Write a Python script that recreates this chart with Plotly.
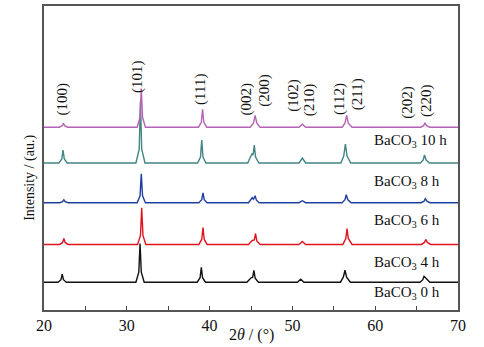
import plotly.graph_objects as go

# ---- data (2theta in degrees, intensity in arbitrary units above each pattern's baseline) ----
x_0h = [20, 21.7, 22.05, 22.2, 22.35, 22.7, 31.1, 31.45, 31.6, 31.75, 32.1, 38.5, 38.85, 39.0, 39.15, 39.5,
        44.5, 44.95, 45.2, 45.35, 45.5, 45.9, 50.6, 51.0, 51.4, 55.8, 56.15, 56.35, 56.55, 57.0,
        65.4, 65.75, 65.9, 66.2, 66.6, 70]
y_0h = [0, 0, 2.5, 8, 2.5, 0, 0, 10, 39, 10, 0, 0, 4.5, 15, 4.5, 0,
        0, 4, 5, 12, 4, 0, 0, 3, 0, 0, 5, 12, 5, 0,
        0, 2.5, 6, 3, 0, 0]

x_4h = [20, 21.9, 22.25, 22.4, 22.55, 22.9, 31.3, 31.65, 31.8, 31.95, 32.3, 38.7, 39.05, 39.2, 39.35, 39.7,
        44.7, 45.15, 45.4, 45.55, 45.7, 46.1, 50.8, 51.2, 51.6, 56.1, 56.45, 56.6, 56.75, 57.2,
        65.6, 65.95, 66.1, 66.3, 66.7, 70]
y_4h = [0, 0, 2, 6, 2, 0, 0, 9, 37, 9, 0, 0, 5, 17, 5, 0,
        0, 4, 4.5, 11, 3.5, 0, 0, 3, 0, 0, 6, 16, 6, 0,
        0, 2, 5, 2, 0, 0]

x_6h = [20, 21.9, 22.25, 22.4, 22.55, 22.9, 31.25, 31.6, 31.75, 31.9, 32.25, 38.7, 39.05, 39.2, 39.35, 39.7,
        44.7, 45.15, 45.3, 45.5, 45.65, 46.0, 50.8, 51.2, 51.6, 56.0, 56.35, 56.5, 56.7, 57.1,
        65.55, 65.9, 66.05, 66.25, 66.6, 70]
y_6h = [0, 0, 1, 3, 1, 0, 0, 7, 29, 7, 0, 0, 3, 10, 3, 0,
        0, 5, 3.5, 7, 2.5, 0, 0, 2, 0, 0, 3, 8, 3, 0,
        0, 1.5, 4, 1.5, 0, 0]

x_8h = [20, 21.8, 22.15, 22.3, 22.45, 22.8, 31.1, 31.5, 31.65, 31.8, 32.2, 38.55, 38.9, 39.05, 39.2, 39.55,
        44.6, 45.1, 45.25, 45.4, 45.55, 45.95, 50.8, 51.2, 51.6, 55.85, 56.2, 56.4, 56.6, 57.05,
        65.45, 65.8, 65.95, 66.15, 66.55, 70]
y_8h = [0, 0, 4, 13, 4, 0, 0, 14, 62, 14, 0, 0, 6, 23, 6, 0,
        0, 9, 8, 18, 6, 0, 0, 5, 0, 0, 7, 19, 7, 0,
        0, 3, 8, 3, 0, 0]

x_10h = [20, 21.85, 22.2, 22.35, 22.5, 22.85, 31.25, 31.6, 31.75, 31.9, 32.25, 38.65, 39.0, 39.15, 39.3, 39.65,
         44.9, 45.3, 45.5, 45.7, 46.1, 50.8, 51.2, 51.6, 56.0, 56.35, 56.55, 56.75, 57.2,
         65.5, 65.85, 66.0, 66.2, 66.6, 70]
y_10h = [0, 0, 1.5, 4, 1.5, 0, 0, 10, 39, 10, 0, 0, 5, 18, 5, 0,
         0, 4, 12, 4, 0, 0, 3, 0, 0, 4, 12, 4, 0,
         0, 1.5, 4.5, 1.5, 0, 0]

series_names = ["BaCO<sub>3</sub> 0 h", "BaCO<sub>3</sub> 4 h", "BaCO<sub>3</sub> 6 h",
                "BaCO<sub>3</sub> 8 h", "BaCO<sub>3</sub> 10 h"]
series_x = [x_0h, x_4h, x_6h, x_8h, x_10h]
series_y = [y_0h, y_4h, y_6h, y_8h, y_10h]

miller_labels = ["(100)", "(101)", "(111)", "(002)", "(200)", "(102)", "(210)",
                 "(112)", "(211)", "(202)", "(220)"]
miller_x = [22.2, 31.3, 38.9, 44.4, 46.6, 50.1, 52.1, 55.7, 57.9, 63.9, 66.2]

x_ticks = [20, 30, 40, 50, 60, 70]

# ---- layout / style ----
offsets = [28, 66, 108, 148, 184]
colors = ["#111111", "#e0141e", "#1f3f9f", "#428484", "#b563b5"]
label_y = [17, 47, 90, 129, 170]
miller_y = [212, 235, 222, 212, 221, 216, 212, 212, 217, 209, 211]

SERIF = "Liberation Serif, Times New Roman, serif"

fig = go.Figure()
for xs, ys, off, c in zip(series_x, series_y, offsets, colors):
    fig.add_trace(go.Scatter(x=xs, y=[v + off for v in ys], mode="lines",
                             line=dict(color=c, width=1.4), showlegend=False,
                             hoverinfo="skip"))

annotations = []
for name, ly in zip(series_names, label_y):
    annotations.append(dict(x=59.6, y=ly, xref="x", yref="y", text=name, showarrow=False,
                            xanchor="left", yanchor="middle",
                            font=dict(family=SERIF, size=15, color="#111")))
for lab, mx, my in zip(miller_labels, miller_x, miller_y):
    annotations.append(dict(x=mx, y=my, xref="x", yref="y", text=lab, showarrow=False,
                            textangle=-90, xanchor="center", yanchor="middle",
                            font=dict(family=SERIF, size=15, color="#111")))
annotations.append(dict(x=0.5, y=-25 / 306, xref="paper", yref="paper",
                        text="2<i>θ</i> / (°)", showarrow=False, xanchor="center",
                        yanchor="middle", font=dict(family=SERIF, size=16, color="#111")))
annotations.append(dict(x=-14 / 414, y=(310 - 177) / 306, xref="paper", yref="paper",
                        text="Intensity / (au.)", showarrow=False, textangle=-90,
                        xanchor="center", yanchor="middle",
                        font=dict(family=SERIF, size=14, color="#111")))

fig.update_layout(
    width=484, height=347,
    margin=dict(l=44, r=26, t=4, b=37),
    paper_bgcolor="white", plot_bgcolor="white",
    annotations=annotations,
    xaxis=dict(range=[20, 70], tickvals=x_ticks, ticks="inside", ticklen=4,
               tickcolor="#444", showgrid=False, zeroline=False,
               showline=True, linecolor="#555", linewidth=1.5, mirror=True,
               minor=dict(dtick=5, tick0=20, ticks="inside", ticklen=4, tickcolor="#444"),
               tickfont=dict(family=SERIF, size=16, color="#111")),
    yaxis=dict(range=[0, 306], showticklabels=False, ticks="", showgrid=False,
               zeroline=False, showline=True, linecolor="#555", linewidth=1.5, mirror=True),
)

fig.write_html("out.html")
